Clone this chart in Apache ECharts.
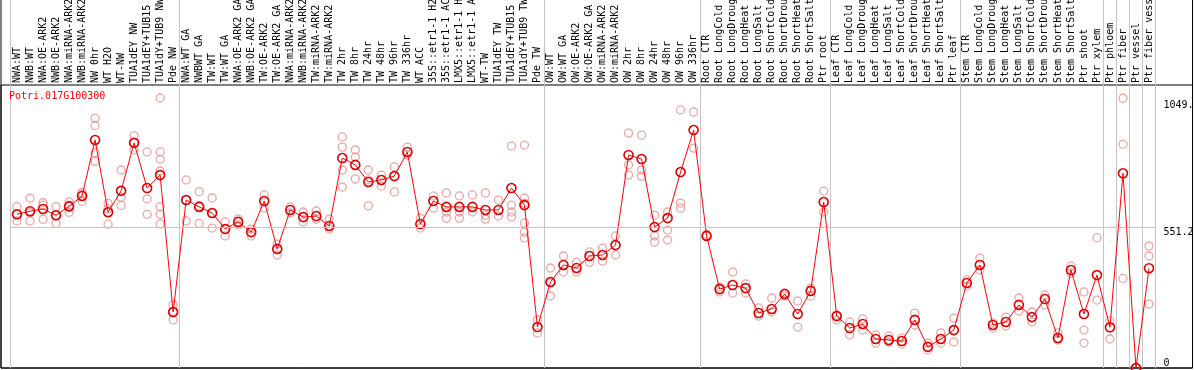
<!DOCTYPE html>
<html>
<head>
<meta charset="utf-8">
<script src="https://cdn.jsdelivr.net/npm/echarts@6/dist/echarts.min.js"></script>
<style>
html, body { margin: 0; padding: 0; background: #fff; }
#chart { width: 1194px; height: 370px; }
</style>
</head>
<body>
<div id="chart"></div>
<script>
const geneName = 'Potri.017G100300';

const categories = [
    'NWA:WT', 'NWB:WT', 'NWA:OE-ARK2', 'NWB:OE-ARK2', 'NWA:miRNA-ARK2', 'NWB:miRNA-ARK2',
    'NW 0hr', 'WT H2O', 'WT-NW', 'TUA1dEY NW', 'TUA1dEY+TUB15 NW', 'TUA1dY+TUB9 NW', 'Pde NW',
    'NWA:WT GA', 'NWBWT GA', 'TW:WT', 'TW:WT GA', 'NWA:OE-ARK2 GA', 'NWB:OE-ARK2 GA',
    'TW:OE-ARK2', 'TW:OE-ARK2 GA', 'NWA:miRNA-ARK2 GA', 'NWB:miRNA-ARK2 GA', 'TW:miRNA-ARK2',
    'TW:miRNA-ARK2 GA', 'TW 2hr', 'TW 8hr', 'TW 24hr', 'TW 48hr', 'TW 96hr', 'TW 336hr', 'WT ACC',
    '35S::etr1-1 H2O', '35S::etr1-1 ACC', 'LMX5::etr1-1 H2O', 'LMX5::etr1-1 ACC', 'WT-TW',
    'TUA1dEY TW', 'TUA1dEY+TUB15 TW', 'TUA1dY+TUB9 TW', 'Pde TW',
    'OW:WT', 'OW:WT GA', 'OW:OE-ARK2', 'OW:OE-ARK2 GA', 'OW:miRNA-ARK2', 'OW:miRNA-ARK2 GA',
    'OW 2hr', 'OW 8hr', 'OW 24hr', 'OW 48hr', 'OW 96hr', 'OW 336hr',
    'Root CTR', 'Root LongCold', 'Root LongDrought', 'Root LongHeat', 'Root LongSalt',
    'Root ShortCold', 'Root ShortDrought', 'Root ShortHeat', 'Root ShortSalt', 'Ptr root',
    'Leaf CTR', 'Leaf LongCold', 'Leaf LongDrought', 'Leaf LongHeat', 'Leaf LongSalt',
    'Leaf ShortCold', 'Leaf ShortDrought', 'Leaf ShortHeat', 'Leaf ShortSalt', 'Ptr leaf',
    'Stem CTR', 'Stem LongCold', 'Stem LongDrought', 'Stem LongHeat', 'Stem LongSalt',
    'Stem ShortCold', 'Stem ShortDrought', 'Stem ShortHeat', 'Stem ShortSalt', 'Ptr shoot', 'Ptr xylem',
    'Ptr phloem', 'Ptr fiber', 'Ptr vessel', 'Ptr fiber vessel'
];

// mean expression per sample
const means = [
    604, 616, 625, 600, 635, 676, 896, 612, 696, 885, 707, 758, 220,
    660, 633, 609, 546, 574, 534, 656, 468, 621, 593, 597, 558,
    825, 798, 731, 739, 754, 849, 566, 656, 633, 633, 633, 621, 621, 707, 640, 161,
    338, 405, 393, 440, 444, 483, 837, 821, 554, 589, 770, 935,
    519, 310, 326, 314, 216, 232, 291, 212, 303, 652,
    204, 157, 173, 114, 110, 106, 189, 83, 114, 149,
    334, 405, 169, 181, 248, 200, 271, 118, 385, 212, 365,
    160, 765, 0, 392
];

// individual replicates per sample
const replicates = [
    [634, 578, 604], [667, 578, 610], [650, 640, 584], [634, 568, 600], [653, 612, 640],
    [690, 655, 683], [981, 953, 846, 812], [647, 565, 625], [778, 671, 639], [913, 857, 885],
    [849, 664, 604], [1061, 849, 820, 774, 634, 604, 566], [248, 189, 222],
    [739, 578, 660], [693, 568, 638], [668, 550, 609], [574, 519, 546], [585, 562], [546, 519],
    [680, 629], [487, 444], [633, 609], [613, 574], [617, 585], [585, 546],
    [908, 868, 778, 711], [857, 829, 743], [778, 739, 637], [758, 715], [790, 692], [868, 837],
    [589, 550], [676, 629], [688, 613, 589], [676, 613, 589], [680, 613], [688, 601, 585],
    [660, 597], [872, 640, 613, 593], [876, 668, 648, 570, 534, 511], [189, 138],
    [393, 334, 283], [440, 377], [416, 377], [456, 416], [471, 420], [519, 444],
    [923, 798, 758], [915, 778, 754], [601, 519, 495], [613, 542, 503], [1014, 648, 629], [1006, 864],
    [519, 525], [318, 299], [377, 295], [330, 295], [236, 204], [275, 220], [295, 283],
    [263, 161], [314, 283], [695, 613],
    [208, 189], [181, 130], [193, 149], [130, 98], [126, 102], [118, 94], [216, 169],
    [98, 71], [138, 98], [196, 102],
    [346, 322], [432, 385], [177, 157], [200, 165], [275, 224], [220, 181], [287, 248],
    [138, 110], [401, 373], [299, 149, 98], [512, 267],
    [185, 114], [1060, 879, 352], [0], [479, 440, 251]
];

// first sample index of each group
const groupStarts = [0, 13, 41, 53, 63, 73, 84, 85, 86, 87];

const yTicks = [0, 551.2, 1049.6];

const FONT = 'DejaVu Sans Mono';
const GREY = '#c4c4c4';

const repPoints = [];
replicates.forEach((vals, i) => vals.forEach(v => repPoints.push([i, v])));

const sepLine = {
    show: true,
    interval: (i) => groupStarts.includes(i),
    lineStyle: {color: GREY, width: 1}
};

const greyAxisLine = {show: true, lineStyle: {color: GREY, width: 1}};

const option = {
    animation: false,
    title: {
        text: geneName,
        left: 9,
        top: 91,
        padding: 0,
        textStyle: {color: '#ff0000', fontFamily: FONT, fontSize: 10, fontWeight: 'normal'}
    },
    grid: [
        {left: 10.5, right: 38.5, top: 85, bottom: 2, outerBoundsMode: 'none', containLabel: false},
        {left: 10.5, right: 38.5, top: 0, height: 85, outerBoundsMode: 'none', containLabel: false},
        {left: 1, right: 1.5, top: -5, bottom: 2, show: true, borderColor: '#000', borderWidth: 1, outerBoundsMode: 'none'},
        {left: 1, right: 1.5, top: 85, bottom: 2, show: true, borderColor: '#000', borderWidth: 1, outerBoundsMode: 'none'}
    ],
    xAxis: [
        {
            gridIndex: 0, type: 'category', data: categories, position: 'top', boundaryGap: true,
            axisLine: {show: false}, axisTick: {show: false},
            axisLabel: {interval: 0, rotate: 90, margin: 2, fontFamily: FONT, fontSize: 10, color: '#000'},
            splitLine: sepLine
        },
        {
            gridIndex: 1, type: 'category', data: categories, boundaryGap: true,
            axisLine: {show: false}, axisTick: {show: false}, axisLabel: {show: false},
            splitLine: sepLine
        },
        {gridIndex: 2, type: 'value', show: false},
        {gridIndex: 3, type: 'value', show: false}
    ],
    yAxis: [
        {
            gridIndex: 0, type: 'value', min: 0, max: 1112, position: 'right', offset: 0,
            axisLine: greyAxisLine, axisTick: {show: false}, splitLine: {show: false},
            axisLabel: {
                customValues: yTicks.slice(1), verticalAlign: 'top', align: 'left', margin: 8,
                fontFamily: FONT, fontSize: 10, color: '#000', formatter: v => String(v)
            }
        },
        {
            gridIndex: 0, type: 'value', min: 0, max: 1112, position: 'right', offset: 0,
            axisLine: {show: false}, axisTick: {show: false}, splitLine: {show: false},
            axisLabel: {
                customValues: yTicks.slice(0, 1), verticalAlign: 'bottom', align: 'left', margin: 8,
                fontFamily: FONT, fontSize: 10, color: '#000', formatter: v => String(v)
            }
        },
        {
            gridIndex: 0, type: 'value', min: 0, max: 1112, position: 'left',
            axisLine: greyAxisLine, axisTick: {show: false}, axisLabel: {show: false}, splitLine: {show: false}
        },
        {
            gridIndex: 1, type: 'value', position: 'left',
            axisLine: greyAxisLine, axisTick: {show: false}, axisLabel: {show: false}, splitLine: {show: false}
        },
        {
            gridIndex: 1, type: 'value', position: 'right',
            axisLine: greyAxisLine, axisTick: {show: false}, axisLabel: {show: false}, splitLine: {show: false}
        },
        {gridIndex: 2, type: 'value', show: false},
        {gridIndex: 3, type: 'value', show: false}
    ],
    series: [
        {
            type: 'scatter',
            xAxisIndex: 0, yAxisIndex: 0,
            data: repPoints,
            symbol: 'circle',
            symbolSize: 8,
            itemStyle: {color: 'rgba(0,0,0,0)', borderColor: '#e98f8f', borderWidth: 1.3},
            z: 2
        },
        {
            type: 'line',
            xAxisIndex: 0, yAxisIndex: 0,
            data: means,
            symbol: 'circle',
            symbolSize: 9,
            lineStyle: {color: '#ff0000', width: 1},
            itemStyle: {color: 'rgba(0,0,0,0)', borderColor: '#e00000', borderWidth: 1.6},
            markLine: {
                silent: true,
                symbol: 'none',
                label: {show: false},
                lineStyle: {color: GREY, width: 1, type: 'solid'},
                data: [{yAxis: yTicks[1]}]
            },
            z: 3
        }
    ]
};

const chart = echarts.init(document.getElementById('chart'));
chart.setOption(option);
</script>
</body>
</html>
